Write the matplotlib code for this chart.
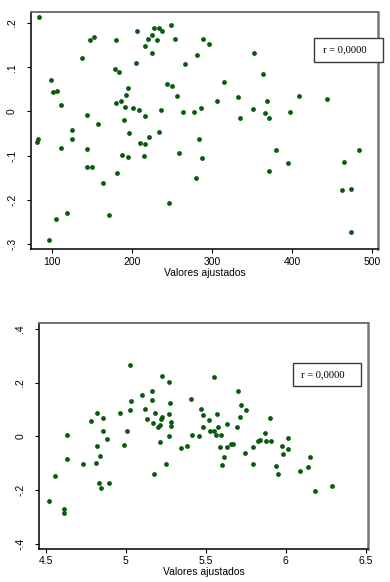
import matplotlib
matplotlib.use("Agg")
import matplotlib.pyplot as plt
from matplotlib.patches import Rectangle

# ---------------- data: top panel ----------------
fitted_top = [84.2, 147.8, 153.2, 138.3, 99.2, 101.2, 107.0, 111.2, 144.5, 157.8,
              125.4, 180.7, 178.6, 184.4, 206.0, 204.8, 216.8, 220.5, 225.1, 227.2,
              233.5, 231.8, 238.0, 225.1, 248.9, 253.4, 265.9, 280.9, 288.8, 296.7,
              195.6, 192.3, 179.8, 186.1, 191.5, 201.5, 209.4, 216.8, 189.8, 196.5,
              236.8, 243.9, 249.7, 256.0, 263.4, 277.5, 286.3, 306.2, 315.0, 332.4,
              334.9, 351.1, 352.4, 363.6, 369.0, 365.7, 371.5, 396.9, 409.0, 443.0,
              82.5, 82.1, 125.8, 112.1, 144.1, 144.5, 150.7, 163.6, 171.9, 119.5,
              105.8, 97.1, 181.1, 188.2, 195.2, 210.6, 216.8, 214.8, 221.8, 234.3,
              246.8, 258.8, 284.2, 280.0, 287.5, 370.7, 380.2, 395.2, 464.7, 462.6,
              473.0, 473.4, 483.8]
resid_top = [0.214, 0.161, 0.168, 0.121, 0.072, 0.043, 0.047, 0.014, -0.008, -0.028,
             -0.042, 0.161, 0.097, 0.090, 0.181, 0.109, 0.149, 0.163, 0.174, 0.188,
             0.189, 0.162, 0.182, 0.133, 0.195, 0.164, 0.108, 0.127, 0.164, 0.152,
             0.053, 0.038, 0.018, 0.023, 0.011, 0.008, 0.004, -0.011, -0.020, -0.048,
             0.003, 0.061, 0.058, 0.034, -0.002, -0.002, 0.008, 0.024, 0.066, 0.032,
             -0.015, 0.005, 0.132, 0.085, 0.024, -0.004, -0.014, -0.002, 0.035, 0.029,
             -0.062, -0.070, -0.062, -0.082, -0.086, -0.126, -0.126, -0.163, -0.234, -0.230,
             -0.244, -0.290, -0.140, -0.098, -0.102, -0.071, -0.074, -0.101, -0.058, -0.046,
             -0.207, -0.095, -0.062, -0.151, -0.106, -0.134, -0.088, -0.117, -0.115, -0.178,
             -0.175, -0.273, -0.087]
xticks_top = [100, 200, 300, 400, 500]
xticklabels_top = ["100", "200", "300", "400", "500"]
yticks_top = [-0.3, -0.2, -0.1, 0.0, 0.1, 0.2]
yticklabels_top = ["-.3", "-.2", "-.1", "0", ".1", ".2"]

# ---------------- data: bottom panel ----------------
fitted_bot = [4.635, 4.781, 4.819, 4.856, 4.860, 4.885, 4.819, 4.965, 4.992, 5.006,
              5.027, 5.031, 5.029, 5.104, 5.121, 5.135, 5.163, 5.163, 5.169, 5.181,
              5.202, 5.215, 5.223, 5.225, 5.227, 5.212, 5.273, 5.277, 5.273, 5.281,
              5.281, 5.271, 5.348, 5.381, 5.406, 5.417, 5.460, 5.471, 5.481, 5.485,
              5.519, 5.527, 5.550, 5.550, 5.571, 5.563, 5.579, 5.594, 5.588, 5.633,
              5.635, 5.656, 5.669, 5.698, 5.702, 5.715, 5.721, 5.750, 5.796, 5.829,
              5.842, 5.869, 5.875, 5.900, 5.906, 5.977, 6.015, 6.017,
              4.631, 4.558, 4.523, 4.615, 4.613, 4.735, 4.813, 4.838, 4.835, 4.844,
              4.894, 5.177, 5.252, 5.615, 5.602, 5.748, 5.798, 5.985, 5.938, 5.954,
              6.092, 6.142, 6.154, 6.183, 6.290]
resid_bot = [0.005, 0.058, 0.089, 0.070, 0.022, -0.009, -0.036, 0.088, -0.032, 0.020,
             0.266, 0.132, 0.098, 0.155, 0.104, 0.066, 0.171, 0.134, 0.050, 0.089,
             0.034, 0.042, 0.066, 0.072, 0.225, -0.022, 0.201, 0.124, 0.084, 0.055,
             0.040, 0.002, -0.042, -0.035, 0.139, 0.005, 0.001, 0.102, 0.081, 0.034,
             0.062, 0.020, 0.022, 0.220, 0.082, 0.006, 0.035, 0.004, -0.041, 0.046,
             -0.041, -0.027, -0.029, 0.036, 0.169, 0.071, 0.118, 0.097, -0.041, -0.017,
             -0.012, 0.012, -0.017, 0.068, -0.017, -0.034, -0.004, -0.046,
             -0.082, -0.148, -0.240, -0.270, -0.283, -0.101, -0.098, -0.072, -0.173, -0.191,
             -0.174, -0.138, -0.101, -0.077, -0.106, -0.063, -0.102, -0.065, -0.108, -0.140,
             -0.128, -0.112, -0.077, -0.204, -0.186]
xticks_bot = [4.5, 5.0, 5.5, 6.0, 6.5]
xticklabels_bot = ["4.5", "5", "5.5", "6", "6.5"]
yticks_bot = [-0.4, -0.2, 0.0, 0.2, 0.4]
yticklabels_bot = ["-.4", "-.2", "0", ".2", ".4"]

xlabel = "Valores ajustados"
r_text = "r = 0,0000"

# ---------------- figure ----------------
plt.rcParams['font.family'] = ['Liberation Sans', 'DejaVu Sans']
fig = plt.figure(figsize=(3.9, 5.82), dpi=100)
dot_color = "#0a5a10"
fs = 7.5

def style(ax, xt, xtl, yt, ytl):
    ax.set_xticks(xt)
    ax.set_xticklabels(xtl)
    ax.set_yticks(yt)
    ax.set_yticklabels(ytl, rotation=90, va="center")
    ax.tick_params(axis="both", direction="out", length=3, width=0.8,
                   labelsize=fs, colors="black")
    ax.tick_params(axis="y", pad=7)
    ax.tick_params(axis="x", pad=2.5)
    ax.set_xlabel(xlabel, fontsize=fs, labelpad=0.5)
    ax.spines["left"].set_color("black")
    ax.spines["bottom"].set_color("black")
    ax.spines["left"].set_linewidth(1.1)
    ax.spines["bottom"].set_linewidth(1.1)
    ax.spines["top"].set_color("#666666")
    ax.spines["right"].set_color("#777777")
    ax.spines["top"].set_linewidth(1.3)
    ax.spines["right"].set_linewidth(1.8)

ax1 = fig.add_axes([0.0795, 0.5716, 0.8897, 0.4078])
ax1.scatter(fitted_top, resid_top, s=12, color=dot_color, linewidths=0, zorder=3)
ax1.set_xlim(74.2, 507)
ax1.set_ylim(-0.312, 0.225)
style(ax1, xticks_top, xticklabels_top, yticks_top, yticklabels_top)

ax2 = fig.add_axes([0.1008, 0.0572, 0.8436, 0.3873])
ax2.scatter(fitted_bot, resid_bot, s=12, color=dot_color, linewidths=0, zorder=3)
ax2.set_xlim(4.46, 6.516)
ax2.set_ylim(-0.4175, 0.421)
style(ax2, xticks_bot, xticklabels_bot, yticks_bot, yticklabels_bot)

def rbox(x0, y0, x1, y1, tx, ty):
    fig.patches.append(Rectangle((x0, y0), x1 - x0, y1 - y0, transform=fig.transFigure,
                                 facecolor="white", edgecolor="#3a3a3a", linewidth=1.0,
                                 zorder=10))
    fig.text(tx, ty, r_text, family=["Liberation Serif", "DejaVu Serif"],
             fontsize=7.6, ha="left", va="center", zorder=11)

rbox(0.8064, 0.8935, 0.982, 0.9352, 0.8274, 0.9144)
rbox(0.7505, 0.3363, 0.9264, 0.3758, 0.771, 0.356)

fig.savefig("out.png", dpi=100)
